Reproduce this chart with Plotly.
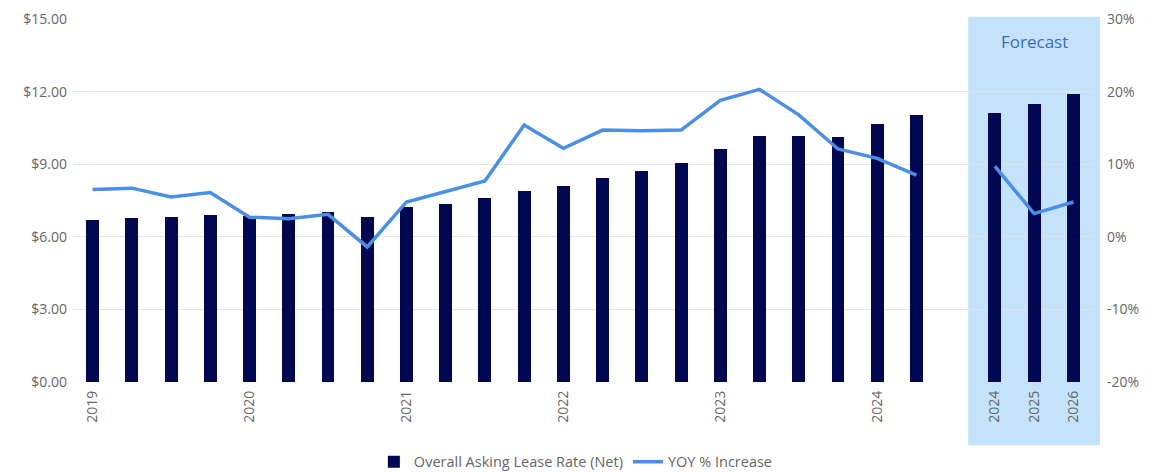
import plotly.graph_objects as go

# Quarterly history, a spacer slot, then annual forecasts
quarters = [f"{y} Q{q}" for y in range(2019, 2024) for q in range(1, 5)] + ["2024 Q1", "2024 Q2"]
forecast_years = ["2024F", "2025F", "2026F"]
spacer = ["gap"]
categories = quarters + spacer + forecast_years

asking_rate = [6.70, 6.77, 6.82, 6.90, 6.86, 6.94, 7.03, 6.82,
               7.23, 7.36, 7.60, 7.89, 8.10, 8.43, 8.72, 9.05,
               9.63, 10.17, 10.17, 10.12, 10.66, 11.03,
               None,
               11.12, 11.49, 11.90]

yoy_increase = [6.5, 6.7, 5.5, 6.1, 2.7, 2.5, 3.1, -1.4,
                4.8, 6.2, 7.7, 15.4, 12.2, 14.7, 14.6, 14.7,
                18.8, 20.3, 16.8, 12.1, 10.8, 8.5,
                None,
                9.7, 3.2, 4.8]

tick_cats = ["2019 Q1", "2020 Q1", "2021 Q1", "2022 Q1", "2023 Q1", "2024 Q1",
             "2024F", "2025F", "2026F"]
tick_text = ["2019", "2020", "2021", "2022", "2023", "2024", "2024", "2025", "2026"]

pct_ticks = [-20, -10, 0, 10, 20, 30]
pct_tick_text = [f"{v}%" for v in pct_ticks]

BAR_COLOR = "#020752"
LINE_COLOR = "#4a8fe3"
SHADE_COLOR = "#c4e2f9"
TEXT_COLOR = "#666666"

fig = go.Figure()
fig.add_trace(go.Bar(
    x=categories, y=asking_rate, name="Overall Asking Lease Rate (Net)",
    marker=dict(color=BAR_COLOR, line=dict(width=0)), width=0.33,
))
fig.add_trace(go.Scatter(
    x=categories, y=yoy_increase, name="YOY % Increase", yaxis="y2",
    mode="lines", line=dict(color=LINE_COLOR, width=3.5), connectgaps=False,
))

n = len(categories)


def cat_to_paper(pos):
    # category index -> paper fraction for range [-0.5, n-0.5]
    return (pos + 0.5) / n


first_fc = categories.index(forecast_years[0])
last_fc = categories.index(forecast_years[-1])
fig.add_shape(
    type="rect", xref="paper", yref="paper",
    x0=cat_to_paper(first_fc - 0.68), x1=cat_to_paper(last_fc + 0.68),
    y0=-0.174, y1=1.006,
    fillcolor=SHADE_COLOR, line=dict(width=0), layer="below",
)
fig.add_annotation(
    xref="paper", yref="paper",
    x=cat_to_paper((first_fc + last_fc) / 2), y=0.937,
    xanchor="center", yanchor="middle",
    text="Forecast", showarrow=False,
    font=dict(size=17, color="#3b6db8"),
)

fig.update_layout(
    width=1151, height=473,
    margin=dict(l=73, r=58, t=19, b=91, autoexpand=False),
    paper_bgcolor="white", plot_bgcolor="rgba(0,0,0,0)",
    font=dict(family="Open Sans", size=13, color=TEXT_COLOR),
    bargap=0,
    xaxis=dict(
        type="category", categoryorder="array", categoryarray=categories,
        range=[-0.5, n - 0.5], automargin=False,
        tickmode="array", tickvals=tick_cats, ticktext=tick_text,
        tickangle=-90, showgrid=False, zeroline=False, showline=False,
        ticks="", ticklabelstandoff=5, tickfont=dict(size=14, color=TEXT_COLOR),
    ),
    yaxis=dict(
        range=[0, 15], dtick=3, tickprefix="$", tickformat=".2f",
        gridcolor="#e4e4e4", gridwidth=1, zeroline=False, automargin=False,
        tickfont=dict(size=14, color=TEXT_COLOR), ticks="", ticklabelstandoff=5,
    ),
    yaxis2=dict(
        overlaying="y", side="right", range=[-20, 30],
        tickmode="array", tickvals=pct_ticks, ticktext=pct_tick_text,
        showgrid=False, zeroline=False, automargin=False,
        tickfont=dict(size=14, color=TEXT_COLOR), ticks="", ticklabelstandoff=13,
    ),
    legend=dict(
        orientation="h", x=0.493, xanchor="center", y=-0.22, yanchor="middle",
        font=dict(size=14.5, color=TEXT_COLOR), bgcolor="rgba(0,0,0,0)",
    ),
)

fig.write_html("out.html")
